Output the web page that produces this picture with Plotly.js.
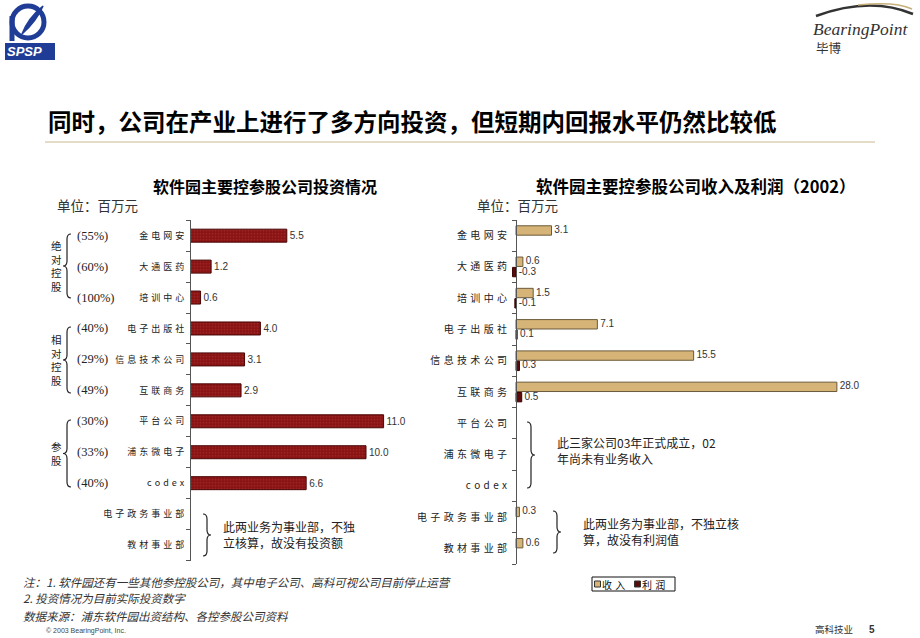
<!DOCTYPE html>
<html>
<head>
<meta charset="utf-8">
<script src="https://cdn.plot.ly/plotly-3.0.1.min.js"></script>
<style>
  html, body { margin: 0; padding: 0; background: #fff; }
  #chart { width: 920px; height: 638px; }
</style>
</head>
<body>
<div id="chart"></div>
<script>
// ---------------- DATA ----------------
const leftCategories = ['金电网安','大通医药','培训中心','电子出版社','信息技术公司','互联商务','平台公司','浦东微电子','codex','电子政务事业部','教材事业部'];
const leftInvestment = [5.5, 1.2, 0.6, 4.0, 3.1, 2.9, 11.0, 10.0, 6.6, null, null];
const leftStakes = ['(55%)','(60%)','(100%)','(40%)','(29%)','(49%)','(30%)','(33%)','(40%)', null, null];

const rightCategories = ['金电网安','大通医药','培训中心','电子出版社','信息技术公司','互联商务','平台公司','浦东微电子','codex','电子政务事业部','教材事业部'];
const rightRevenue = [3.1, 0.6, 1.5, 7.1, 15.5, 28.0, null, null, null, 0.3, 0.6];
const rightProfit = [null, -0.3, -0.1, 0.1, 0.3, 0.5, null, null, null, null, null];

const groupLabels = ['绝对控股', '相对控股', '参股'];
const seriesNames = ['收入', '利润'];

const mainTitle = '同时，公司在产业上进行了多方向投资，但短期内回报水平仍然比较低';
const leftTitle = '软件园主要控参股公司投资情况';
const rightTitle = '软件园主要控参股公司收入及利润（2002）';
const unitText = '单位：百万元';
const leftNote = '此两业务为事业部，不独<br>立核算，故没有投资额';
const rightNote1 = '此三家公司03年正式成立，02<br>年尚未有业务收入';
const rightNote2 = '此两业务为事业部，不独立核<br>算，故没有利润值';
const footnotes = ['注：1. 软件园还有一些其他参控股公司，其中电子公司、高科可视公司目前停止运营',
                   '2. 投资情况为目前实际投资数字',
                   '数据来源：浦东软件园出资结构、各控参股公司资料'];

// ---------------- STYLE ----------------
const W = 920, H = 638;
const X = p => p / W;
const Y = p => 1 - p / H;
const CJK = 'Noto Sans CJK SC, sans-serif';
const SANS = 'Liberation Sans, Arial, sans-serif';
const SERIF = 'Liberation Serif, serif';
const investColor = '#8a1212';
const revenueColor = '#d6b477';
const profitColor = '#5c0b0b';
const spaced = s => s.split('').join('\u2004');
const fmt = v => (v === null ? '' : v.toFixed(1));
const fmtPad = v => (v === null ? '' : '\u00a0' + v.toFixed(1));

// ---------------- TRACES ----------------
const traces = [];
traces.push({
  type: 'bar', orientation: 'h', xaxis: 'x', yaxis: 'y',
  y: leftCategories, x: leftInvestment,
  width: 0.42,
  marker: { color: investColor, line: { color: '#4a0505', width: 1 },
            pattern: { shape: '.', size: 3, solidity: 0.25, fgcolor: '#b04040', fillmode: 'overlay' } },
  text: leftInvestment.map(fmt), textposition: 'outside', constraintext: 'none',
  textfont: { family: SANS, size: 10, color: '#333' }, cliponaxis: false,
  showlegend: false, hoverinfo: 'skip'
});

const revY = rightCategories.map((_, i) => i - 0.165);
const proY = rightCategories.map((_, i) => i + 0.165);
traces.push({
  type: 'bar', orientation: 'h', xaxis: 'x2', yaxis: 'y2', name: seriesNames[0],
  y: revY, x: rightRevenue, width: 0.3,
  marker: { color: revenueColor, line: { color: '#6b5a3a', width: 1 } },
  showlegend: false, hoverinfo: 'skip'
});
traces.push({
  type: 'bar', orientation: 'h', xaxis: 'x2', yaxis: 'y2', name: seriesNames[1],
  y: proY, x: rightProfit, width: 0.3,
  marker: { color: profitColor, line: { color: '#3a0000', width: 1 } },
  showlegend: false, hoverinfo: 'skip'
});
traces.push({
  type: 'scatter', mode: 'text', xaxis: 'x2', yaxis: 'y2',
  y: revY, x: rightRevenue.map(v => v === null ? null : Math.max(v, 0)),
  text: rightRevenue.map(fmtPad), textposition: 'middle right',
  textfont: { family: SANS, size: 10, color: '#333' }, cliponaxis: false,
  showlegend: false, hoverinfo: 'skip'
});
traces.push({
  type: 'scatter', mode: 'text', xaxis: 'x2', yaxis: 'y2',
  y: proY, x: rightProfit.map(v => v === null ? null : Math.max(v, 0)),
  text: rightProfit.map(fmtPad), textposition: 'middle right',
  textfont: { family: SANS, size: 10, color: '#333' }, cliponaxis: false,
  showlegend: false, hoverinfo: 'skip'
});

// ---------------- ANNOTATIONS ----------------
const ann = [];
const addText = (x, y, text, opts = {}) => ann.push(Object.assign({
  xref: 'paper', yref: 'paper', x: X(x), y: Y(y), text: text, showarrow: false,
  xanchor: 'left', yanchor: 'middle', align: 'left', borderpad: 0,
  font: { family: CJK, size: 12, color: '#222' }
}, opts));

addText(47, 121, '<b>' + mainTitle + '</b>', { font: { family: CJK, size: 23.5, color: '#000' } });
addText(265, 186, '<b>' + leftTitle + '</b>', { xanchor: 'center', font: { family: CJK, size: 16, color: '#000' } });
addText(695, 186, '<b>' + rightTitle + '</b>', { xanchor: 'center', font: { family: CJK, size: 16.5, color: '#000' } });
addText(56, 205, unitText, { font: { family: CJK, size: 13.5, color: '#333' } });
addText(476, 205, unitText, { font: { family: CJK, size: 13.5, color: '#333' } });

// stake percentages
leftStakes.forEach((s, i) => {
  if (s === null) return;
  ann.push({ xref: 'paper', yref: 'y', x: X(76), y: leftCategories[i], text: s, showarrow: false,
    xanchor: 'left', yanchor: 'middle', borderpad: 0, font: { family: SERIF, size: 12.5, color: '#222' } });
});

// vertical group labels
const groupCenterY = [266, 360, 453];
groupLabels.forEach((g, gi) => {
  addText(56, groupCenterY[gi], g.split('').join('<br>'),
    { xanchor: 'center', align: 'center', font: { family: CJK, size: 10.5, color: '#222' } });
});

// notes
addText(222, 534, leftNote, { font: { family: CJK, size: 12, color: '#222' } });
addText(556, 450, rightNote1, { font: { family: CJK, size: 12, color: '#222' } });
addText(582, 531, rightNote2, { font: { family: CJK, size: 12, color: '#222' } });

// footnotes
addText(22, 582, '<i>' + footnotes[0] + '</i>', { font: { family: CJK, size: 11.5, color: '#333' } });
addText(22, 598, '<i>' + footnotes[1] + '</i>', { font: { family: CJK, size: 11.5, color: '#333' } });
addText(22, 616, '<i>' + footnotes[2] + '</i>', { font: { family: CJK, size: 11.5, color: '#333' } });
addText(45, 631, '© 2003 BearingPoint, Inc.', { font: { family: SANS, size: 7, color: '#444' } });
addText(814, 629, '高科技业', { font: { family: CJK, size: 9.5, color: '#333' } });
addText(868, 629, '<b>5</b>', { font: { family: SANS, size: 10, color: '#333' } });

// legend texts
addText(601, 584, spaced(seriesNames[0]), { font: { family: CJK, size: 10, color: '#111' } });
addText(641, 584, spaced(seriesNames[1]), { font: { family: CJK, size: 10, color: '#111' } });

// logos text
addText(6, 52, '<b><i>SPSP</i></b>', { xanchor: 'left', font: { family: SANS, size: 13, color: '#fff' } });
addText(812, 29, '<i>BearingPoint</i>', { font: { family: SERIF, size: 17.5, color: '#333' } });
addText(815, 47, '毕博', { font: { family: CJK, size: 12.5, color: '#333' } });

// ---------------- SHAPES ----------------
const shapes = [];
const P = (x, y) => X(x).toFixed(5) + ',' + Y(y).toFixed(5);
function braceLeft(xTip, xMid, xEnd, y0, y1) {
  const ym = (y0 + y1) / 2, r = 5;
  return 'M' + P(xEnd, y0) + ' Q' + P(xMid, y0) + ' ' + P(xMid, y0 + r) +
         ' L' + P(xMid, ym - r) + ' Q' + P(xMid, ym) + ' ' + P(xTip, ym) +
         ' Q' + P(xMid, ym) + ' ' + P(xMid, ym + r) +
         ' L' + P(xMid, y1 - r) + ' Q' + P(xMid, y1) + ' ' + P(xEnd, y1);
}
const addPath = (path, color, width, fill) => shapes.push({ type: 'path', xref: 'paper', yref: 'paper',
  path: path, line: { color: color, width: width }, fillcolor: fill || 'rgba(0,0,0,0)' });

addPath(braceLeft(63, 67, 71, 234, 298), '#222', 1.2);
addPath(braceLeft(63, 67, 71, 327, 393), '#222', 1.2);
addPath(braceLeft(63, 67, 71, 420, 487), '#222', 1.2);
addPath(braceLeft(211, 207, 203, 514, 556), '#222', 1.2);
addPath(braceLeft(535, 531, 527, 422, 488), '#222', 1.2);
addPath(braceLeft(561, 557, 553, 511, 553), '#222', 1.2);

// title rule
shapes.push({ type: 'line', xref: 'paper', yref: 'paper', x0: X(45), x1: X(875), y0: Y(142), y1: Y(142),
  line: { color: '#c9b98f', width: 1 } });

// legend box
const rect = (x0, y0, x1, y1, fill, lc, lw) => shapes.push({ type: 'rect', xref: 'paper', yref: 'paper',
  x0: X(x0), x1: X(x1), y0: Y(y1), y1: Y(y0), fillcolor: fill, line: { color: lc, width: lw } });
rect(592, 577, 675, 591, 'rgba(0,0,0,0)', '#111', 1);
rect(594.5, 581, 600.5, 587, revenueColor, '#333', 1);
rect(634.5, 581, 640.5, 587, profitColor, '#333', 1);

// SPSP logo
rect(5, 43, 55, 60, '#1f3c96', '#1f3c96', 0);
shapes.push({ type: 'circle', xref: 'paper', yref: 'paper', x0: X(12), x1: X(44), y0: Y(38), y1: Y(6),
  line: { color: '#1f3c96', width: 5 } });
shapes.push({ type: 'line', xref: 'paper', yref: 'paper', x0: X(12), x1: X(12), y0: Y(41), y1: Y(16),
  line: { color: '#1f3c96', width: 5 } });
addPath('M' + P(22, 34) + ' Q' + P(28, 18) + ' ' + P(43, 6) + ' Q' + P(36, 22) + ' ' + P(22, 34) + ' Z', '#1f3c96', 1.5, '#1f3c96');

// BearingPoint arcs
addPath('M' + P(816, 16) + ' Q' + P(870, -4) + ' ' + P(913, 14), '#333', 2.5);
addPath('M' + P(858, 5) + ' Q' + P(895, 1) + ' ' + P(912, 9), '#c9b07a', 1.5);

// ---------------- LAYOUT ----------------
const layout = {
  width: W, height: H,
  margin: { l: 0, r: 0, t: 0, b: 0 },
  paper_bgcolor: '#fff', plot_bgcolor: 'rgba(0,0,0,0)',
  showlegend: false,
  barmode: 'overlay',
  xaxis: { domain: [X(190), X(401.2)], range: [0, 12], visible: false, fixedrange: true },
  yaxis: {
    domain: [Y(560.5), Y(220.2)], type: 'category', categoryorder: 'array', categoryarray: leftCategories,
    autorange: 'reversed', anchor: 'free', position: X(190),
    showline: true, linecolor: '#555', linewidth: 1,
    ticks: 'outside', tickson: 'boundaries', ticklen: 4, tickcolor: '#555',
    tickvals: leftCategories, ticktext: leftCategories.map(spaced),
    tickfont: { family: CJK, size: 9, color: '#222' }, ticklabelstandoff: 4,
    showgrid: false, zeroline: false, fixedrange: true
  },
  xaxis2: { domain: [X(516 - 11.46), X(516 + 30 * 11.46)], range: [-1, 30], visible: false, fixedrange: true },
  yaxis2: {
    domain: [Y(564), Y(220)], range: [10.5, -0.5], anchor: 'free', position: X(516),
    showline: true, linecolor: '#555', linewidth: 1,
    tickmode: 'array', tickvals: rightCategories.map((_, i) => i), ticktext: rightCategories.map(spaced),
    ticks: '', tickfont: { family: CJK, size: 10, color: '#222' }, ticklabelstandoff: 7,
    minor: { tickmode: 'array', tickvals: rightCategories.map((_, i) => i - 0.5).concat([rightCategories.length - 0.5]),
             ticks: 'outside', ticklen: 4, tickcolor: '#555', showgrid: false },
    showgrid: false, zeroline: false, fixedrange: true
  },
  annotations: ann,
  shapes: shapes
};

Plotly.newPlot('chart', traces, layout, { staticPlot: true, displayModeBar: false });
</script>
</body>
</html>
